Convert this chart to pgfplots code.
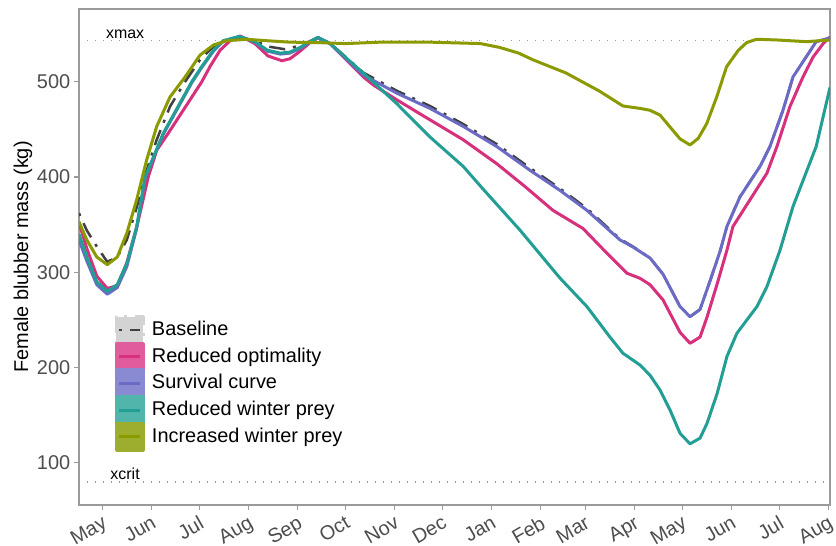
\documentclass[border=0pt]{standalone}
\usepackage{fontspec}
\setmainfont{Liberation Sans}
\usepackage{pgfplots}
\pgfplotsset{compat=1.18}
\definecolor{cPink}{HTML}{D7307D}
\definecolor{cPinkBox}{HTML}{E05C9C}
\definecolor{cBlue}{HTML}{6B6BC6}
\definecolor{cBlueBox}{HTML}{8A8AD2}
\definecolor{cTeal}{HTML}{229E94}
\definecolor{cTealBox}{HTML}{52B5AC}
\definecolor{cOlive}{HTML}{8A9A00}
\definecolor{cOliveBox}{HTML}{9DAE2E}
\definecolor{cBase}{HTML}{404040}
\definecolor{cBaseBox}{HTML}{D3D3D3}
\definecolor{cBorder}{HTML}{9A9A9A}
\definecolor{cTick}{HTML}{4D4D4D}
\pgfplotsset{boxlegend/.style={legend image code/.code={\fill[#1] (0bp,-6.75bp) rectangle (13.5bp,6.75bp);
  \draw[##1] (1.5bp,0bp) -- (12bp,0bp);}}}
\begin{document}
\begin{tikzpicture}
\path[use as bounding box] (-39.5bp,-20.5bp) rectangle (378.5bp,252.5bp);
\begin{axis}[
  scale only axis, width=375.5bp, height=248bp,
  xmin=-14.7, xmax=458, ymin=55.8, ymax=576.3,
  axis line style={color=cBorder, line width=0.6bp},
  tick style={color=cBorder, line width=0.6bp},
  tick align=outside, major tick length=2.7bp,
  xtick pos=bottom, ytick pos=left,
  xtick={0,31,61,92,123,153,184,214,245,276,304,335,365,396,426,457},
  xticklabels={May,Jun,Jul,Aug,Sep,Oct,Nov,Dec,Jan,Feb,Mar,Apr,May,Jun,Jul,Aug},
  ytick={100,200,300,400,500},
  ticklabel style={font=\fontsize{10}{12}\selectfont, text=cTick},
  xticklabel style={rotate=30, anchor=north east, inner sep=1.5pt},
  yticklabel style={inner sep=1.5pt},
  /pgf/number format/assume math mode=true,
  ylabel={Female blubber mass (kg)},
  ylabel style={font=\fontsize{10}{12}\selectfont, at={(axis description cs:-0.0746,0.5)}, anchor=center},
  legend cell align=left,
  legend style={at={(axis description cs:0.0479,0.1069)}, anchor=south west,
    draw=none, fill=none, inner sep=0pt, outer sep=0pt, row sep=-1.6bp, column sep=3.5bp,
    font=\fontsize{10}{12}\selectfont,
    nodes={inner sep=0pt, text height=8bp, text depth=2.5bp}},
  every axis plot/.append style={line join=round},
]
\addplot[forget plot, color=cBorder, line width=0.6bp, dash pattern=on 0.6bp off 3.4bp] coordinates {(-14.7,543) (458,543)};
\addplot[forget plot, color=cBorder, line width=0.6bp, dash pattern=on 0.6bp off 3.4bp] coordinates {(-14.7,80) (458,80)};
\node[anchor=south, inner sep=1pt, font=\fontsize{8}{9}\selectfont] at (axis cs:14.3,543) {xmax};
\node[anchor=south, inner sep=1pt, font=\fontsize{8}{9}\selectfont] at (axis cs:14.3,80) {xcrit};

\addplot[color=cBase, line width=1.25bp, dash pattern=on 1.5bp off 4bp on 8bp off 4bp,
  boxlegend=cBaseBox] coordinates {
(-14.7,362) (-9.8,344) (-3.5,327) (3.1,311) (9.4,316) (15.4,334) (21.6,368) (27.9,407) (34.2,439) (42.6,474) (52.1,500) (61.5,523) (69.9,537) (78.3,543) (86.7,546.5) (96,543) (104,537) (115,534) (124.5,538) (130.7,542.5) (135.7,546.5) (143.3,540.5) (164.3,509.5) (185.3,490.5) (206.2,474.5) (227.2,455.5) (248.2,434.5) (269.2,409.5) (288,388) (305,367) (325.8,335) (334,327) (344.7,315) (352.9,298) (363.6,264) (369.9,253.4) (376.2,261) (382.5,291) (388.8,322) (393.1,348) (401.3,379.5) (413.9,411) (420.2,432) (428.4,470) (434.7,505) (443,526) (449.3,542) (458,545.5)
};
\addlegendentry{Baseline}

\addplot[color=cPink, line width=1.5bp, boxlegend=cPinkBox] coordinates {
(-14.7,352) (-9.8,325) (-3.5,296) (3.1,283) (9.4,286) (15.4,310) (21.6,347) (28.9,400) (34.2,428) (41.5,446) (55.2,481) (62.6,500) (67.8,516) (74.1,533) (80.4,543) (86.7,548) (96,540) (104.3,527) (113,522) (118,524) (124.4,532) (130.7,541) (135.7,546) (143.3,540) (164.3,505) (170.6,496.5) (185.3,481) (206.2,460) (227.2,439) (248.2,414) (266,390) (283.6,365) (302.5,346) (317.6,320) (330.2,299) (338.4,293.7) (344.7,287) (352.9,271) (363.6,237) (369.9,225.5) (376.2,232) (380.6,253) (387,288) (393.1,323) (396.9,348) (407.6,376) (418.3,404) (424.6,432) (432.8,474) (441,505) (447.4,526) (453.7,540) (458,547)
};
\addlegendentry{Reduced optimality}

\addplot[color=cBlue, line width=1.5bp, boxlegend=cBlueBox] coordinates {
(-14.7,334) (-9.8,312) (-3.5,287) (3.1,277) (9.4,284) (15.4,306) (21.6,346) (26.9,399) (38.4,445) (50,480) (56.3,499) (62.6,515) (69.9,532) (76.1,542.5) (86.7,547.5) (96,541.5) (104,532) (112,529) (118,530) (124.5,535) (130.7,541.5) (135.7,546.5) (143.3,540) (164.3,507) (185.3,488) (206.2,472) (227.2,453) (248.2,432) (269.2,407) (288,386) (305,365) (325.8,334) (334,326.5) (344.7,315) (352.9,298) (363.6,264) (369.9,253.4) (376.2,261) (382.5,291) (388.8,322) (393.1,348) (401.3,379) (413.9,411) (420.2,432) (428.4,470) (434.7,505) (443,526) (449.3,542) (458,546)
};
\addlegendentry{Survival curve}

\addplot[color=cTeal, line width=1.5bp, boxlegend=cTealBox] coordinates {
(-14.7,340) (-9.8,316) (-3.5,290) (3.1,280) (9.4,287) (15.4,309) (21.6,348) (26.9,400) (38.4,446) (50,481) (56.3,500) (62.6,516) (69.9,533) (76.1,543) (86,547.5) (96,542) (104,533) (112,530) (118,531) (124.5,536) (130.7,542) (135.7,546.5) (143.3,540) (164.3,509) (185.3,477) (206.2,442) (227.2,411) (239.8,387) (263,344) (288,294) (305,264) (319.5,232) (327.7,215) (338.4,202.7) (344.7,192) (351,176.5) (357.3,155.5) (363.6,131) (369.9,120) (376.2,126) (380.6,141.5) (387,173) (393.1,211.5) (399.4,236) (412,264) (418.3,285) (426.5,323) (434.7,369) (449.3,432) (458,494)
};
\addlegendentry{Reduced winter prey}

\addplot[color=cOlive, line width=1.5bp, boxlegend=cOliveBox] coordinates {
(-14.7,353) (-9.8,334) (-3.5,316) (3.1,308) (9.4,316) (15.4,341) (21.6,376) (27.9,418) (34.2,453) (42.6,484) (52.1,505) (61.5,528) (69.9,538.5) (78.3,543) (90.9,544.5) (103.5,543) (118.1,541.5) (136,541) (153,540) (175,541.5) (206,541.5) (238,540) (250,536) (262,530) (271,523) (292,509) (313,490) (327.7,474.5) (338.4,472) (344.7,470) (351,465) (363.6,440) (369.9,433.6) (375.1,440.6) (380.4,456) (386.7,484) (392.9,515.7) (400.3,533) (405.5,541) (411.8,544.5) (424.4,543.8) (443.3,542) (458,543.8)
};
\addlegendentry{Increased winter prey}
\end{axis}
\end{tikzpicture}
\end{document}
